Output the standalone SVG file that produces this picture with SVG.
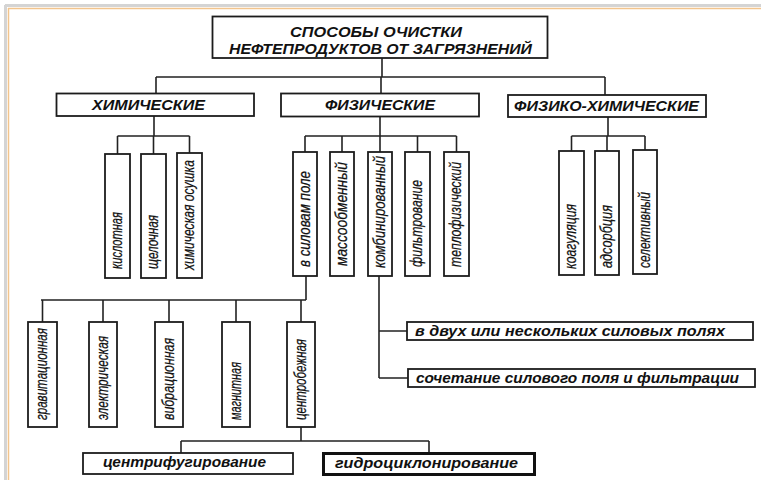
<svg xmlns="http://www.w3.org/2000/svg" width="761" height="480" viewBox="0 0 761 480">
<style>
.box{fill:#fff;stroke:#1c1c1c;stroke-width:1.8}
.thick{fill:#fff;stroke:#111;stroke-width:3}
.ln{fill:none;stroke:#222;stroke-width:1.6}
.h{font-family:"Liberation Sans",Arial,sans-serif;font-weight:bold;font-style:italic;font-size:14px;fill:#111}
.v{font-family:"Liberation Sans",Arial,sans-serif;font-style:italic;font-size:17px;fill:#111;stroke:#111;stroke-width:0.25}
</style>
<rect width="761" height="480" fill="#fff"/>
<g id="frame">
<line x1="5" y1="5.5" x2="761" y2="5.5" stroke="#d4d4d4" stroke-width="3"/>
<line x1="5.5" y1="5" x2="5.5" y2="480" stroke="#d4d4d4" stroke-width="3"/>
<line x1="8" y1="8.5" x2="761" y2="8.5" stroke="#f2c48c" stroke-width="1.5"/>
<line x1="8.5" y1="8" x2="8.5" y2="480" stroke="#f2c48c" stroke-width="1.5"/>
</g>
<g id="connectors" class="ln">
<path d="M382 58V77M156 77H605M156 77V93M381 77V93M605 77V95"/>
<path d="M154 116V136M117.5 136H189.5M117.5 136V154M153.5 136V154M189.5 136V153"/>
<path d="M380 117V136M305 136H456.5M305 136V152M342 136V152M380 136V152M417.5 136V152M456.5 136V152"/>
<path d="M608 117V136M571.5 136H645M571.5 136V151M607 136V151M645 136V150"/>
<path d="M306 276V300M41 300H306M42.5 300V322M103 300V322M169 300V322M236 300V322M301 300V322"/>
<path d="M301 427V441M181 441H429M181 441V453M429 441V453"/>
<path d="M379 276V378M379 331H407M379 378H408"/>
</g>
<g id="root"><rect class="box" x="212.5" y="16.5" width="335" height="41.5"/>
<text class="h" x="290" y="36.5" textLength="172" lengthAdjust="spacingAndGlyphs">СПОСОБЫ ОЧИСТКИ</text>
<text class="h" x="229" y="54" textLength="303" lengthAdjust="spacingAndGlyphs">НЕФТЕПРОДУКТОВ ОТ ЗАГРЯЗНЕНИЙ</text></g>
<g id="chem"><rect class="box" x="56.5" y="93.5" width="197.5" height="22.5"/>
<text class="h" x="92" y="110" textLength="113" lengthAdjust="spacingAndGlyphs">ХИМИЧЕСКИЕ</text></g>
<g id="phys"><rect class="box" x="281" y="93.5" width="198" height="23"/>
<text class="h" x="325" y="110" textLength="110" lengthAdjust="spacingAndGlyphs">ФИЗИЧЕСКИЕ</text></g>
<g id="physchem"><rect class="box" x="508" y="95" width="198" height="22"/>
<text class="h" x="514" y="111" textLength="185" lengthAdjust="spacingAndGlyphs">ФИЗИКО-ХИМИЧЕСКИЕ</text></g>

<g id="kislot"><rect class="box" x="105" y="154" width="25" height="124"/>
<text class="v" transform="translate(122,269) rotate(-90)" textLength="57" lengthAdjust="spacingAndGlyphs">кислотная</text></g>
<g id="shchel"><rect class="box" x="141" y="154" width="25" height="124"/>
<text class="v" transform="translate(158,269) rotate(-90)" textLength="54" lengthAdjust="spacingAndGlyphs">щелочная</text></g>
<g id="osush"><rect class="box" x="177" y="153" width="25" height="125"/>
<text class="v" transform="translate(194,270) rotate(-90)" textLength="110" lengthAdjust="spacingAndGlyphs">химическая осушка</text></g>

<g id="silpole"><rect class="box" x="293" y="152" width="24" height="124"/>
<text class="v" transform="translate(309.5,267) rotate(-90)" textLength="96" lengthAdjust="spacingAndGlyphs">в силовам поле</text></g>
<g id="massoob"><rect class="box" x="330" y="152" width="24" height="124"/>
<text class="v" transform="translate(346.5,266) rotate(-90)" textLength="104" lengthAdjust="spacingAndGlyphs">массообменный</text></g>
<g id="kombin"><rect class="box" x="368" y="152" width="24" height="124"/>
<text class="v" transform="translate(384.5,268) rotate(-90)" textLength="112" lengthAdjust="spacingAndGlyphs">комбинированный</text></g>
<g id="filtr"><rect class="box" x="405" y="152" width="25" height="124"/>
<text class="v" transform="translate(422,267) rotate(-90)" textLength="87" lengthAdjust="spacingAndGlyphs">фильтрование</text></g>
<g id="teplo"><rect class="box" x="444" y="152" width="25" height="124"/>
<text class="v" transform="translate(461,267) rotate(-90)" textLength="105" lengthAdjust="spacingAndGlyphs">теплофизический</text></g>

<g id="koag"><rect class="box" x="559" y="151" width="25" height="124"/>
<text class="v" transform="translate(576,269) rotate(-90)" textLength="65" lengthAdjust="spacingAndGlyphs">коагуляция</text></g>
<g id="adsorb"><rect class="box" x="595" y="151" width="24" height="124"/>
<text class="v" transform="translate(611.5,268) rotate(-90)" textLength="63" lengthAdjust="spacingAndGlyphs">адсорбция</text></g>
<g id="selekt"><rect class="box" x="633" y="150" width="24" height="124"/>
<text class="v" transform="translate(649.5,268) rotate(-90)" textLength="76" lengthAdjust="spacingAndGlyphs">селективный</text></g>

<g id="grav"><rect class="box" x="28" y="322" width="29" height="105"/>
<text class="v" transform="translate(47,420) rotate(-90)" textLength="92" lengthAdjust="spacingAndGlyphs">гравитационная</text></g>
<g id="elektr"><rect class="box" x="89" y="322" width="28" height="105"/>
<text class="v" transform="translate(107.5,420) rotate(-90)" textLength="84" lengthAdjust="spacingAndGlyphs">электрическая</text></g>
<g id="vibr"><rect class="box" x="155" y="322" width="28" height="105"/>
<text class="v" transform="translate(173.5,420) rotate(-90)" textLength="82" lengthAdjust="spacingAndGlyphs">вибрационная</text></g>
<g id="magn"><rect class="box" x="222" y="322" width="28" height="105"/>
<text class="v" transform="translate(240.5,420) rotate(-90)" textLength="58" lengthAdjust="spacingAndGlyphs">магнитная</text></g>
<g id="centrob"><rect class="box" x="287" y="322" width="28" height="105"/>
<text class="v" transform="translate(305.5,420) rotate(-90)" textLength="81" lengthAdjust="spacingAndGlyphs">центробежная</text></g>

<g id="dvuh"><rect class="box" x="407" y="322" width="346" height="18"/>
<text class="h" x="415" y="336" textLength="310" lengthAdjust="spacingAndGlyphs">в двух или нескольких силовых полях</text></g>
<g id="sochet"><rect class="box" x="408" y="369" width="347" height="18"/>
<text class="h" x="416" y="383" textLength="323" lengthAdjust="spacingAndGlyphs">сочетание силового поля и фильтрации</text></g>
<g id="centrif"><rect class="box" x="83" y="453" width="210" height="21"/>
<text class="h" x="103" y="467" textLength="163" lengthAdjust="spacingAndGlyphs">центрифугирование</text></g>
<g id="gidro"><rect class="thick" x="323.5" y="453.5" width="211" height="21"/>
<text class="h" x="335" y="468" textLength="183" lengthAdjust="spacingAndGlyphs">гидроциклонирование</text></g>
</svg>
